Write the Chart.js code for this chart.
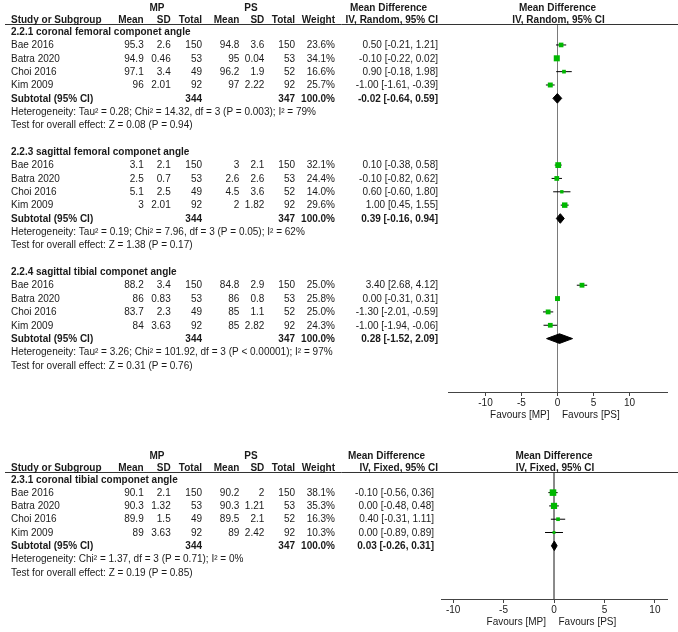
<!DOCTYPE html>
<html><head><meta charset="utf-8">
<script src="https://cdn.jsdelivr.net/npm/chart.js@4.4.1/dist/chart.umd.min.js"></script>
<style>
html,body{margin:0;padding:0;background:#fff;}
#wrap{position:relative;width:678px;height:632px;overflow:hidden;}
.box{position:absolute;left:0;width:678px;}
</style></head><body>
<div id="wrap">
<div class="box" style="top:0;height:432px"><canvas id="c1"></canvas></div>
<div class="box" style="top:440px;height:192px"><canvas id="c2"></canvas></div>
</div>
<script>
// ---------- DATA ----------
const studies = ['Bae 2016', 'Batra 2020', 'Choi 2016', 'Kim 2009'];
const mpTotal = [150, 53, 49, 92];
const psTotal = [150, 53, 52, 92];
const xTicks = [-10, -5, 0, 5, 10];

// Panel 1 (IV, Random)
const p1Titles = ['2.2.1 coronal femoral componet angle', '2.2.3 sagittal femoral componet angle', '2.2.4 sagittal tibial componet angle'];
const p1MpMean = [[95.3, 94.9, 97.1, 96], [3.1, 2.5, 5.1, 3], [88.2, 86, 83.7, 84]];
const p1MpSD   = [[2.6, 0.46, 3.4, 2.01], [2.1, 0.7, 2.5, 2.01], [3.4, 0.83, 2.3, 3.63]];
const p1PsMean = [[94.8, 95, 96.2, 97], [3, 2.6, 4.5, 2], [84.8, 86, 85, 85]];
const p1PsSD   = [[3.6, 0.04, 1.9, 2.22], [2.1, 2.6, 3.6, 1.82], [2.9, 0.8, 1.1, 2.82]];
const p1Weight = [[23.6, 34.1, 16.6, 25.7], [32.1, 24.4, 14.0, 29.6], [25.0, 25.8, 25.0, 24.3]];
const p1MD     = [[0.50, -0.10, 0.90, -1.00], [0.10, -0.10, 0.60, 1.00], [3.40, 0.00, -1.30, -1.00]];
const p1Lo     = [[-0.21, -0.22, -0.18, -1.61], [-0.38, -0.82, -0.60, 0.45], [2.68, -0.31, -2.01, -1.94]];
const p1Hi     = [[1.21, 0.02, 1.98, -0.39], [0.58, 0.62, 1.80, 1.55], [4.12, 0.31, -0.59, -0.06]];
const p1SubMD  = [-0.02, 0.39, 0.28];
const p1SubLo  = [-0.64, -0.16, -1.52];
const p1SubHi  = [0.59, 0.94, 2.09];
const p1Het = [
  'Heterogeneity: Tau\u00B2 = 0.28; Chi\u00B2 = 14.32, df = 3 (P = 0.003); I\u00B2 = 79%',
  'Heterogeneity: Tau\u00B2 = 0.19; Chi\u00B2 = 7.96, df = 3 (P = 0.05); I\u00B2 = 62%',
  'Heterogeneity: Tau\u00B2 = 3.26; Chi\u00B2 = 101.92, df = 3 (P < 0.00001); I\u00B2 = 97%'];
const p1Test = [
  'Test for overall effect: Z = 0.08 (P = 0.94)',
  'Test for overall effect: Z = 1.38 (P = 0.17)',
  'Test for overall effect: Z = 0.31 (P = 0.76)'];

// Panel 2 (IV, Fixed)
const p2Titles = ['2.3.1 coronal tibial componet angle'];
const p2MpMean = [[90.1, 90.3, 89.9, 89]];
const p2MpSD   = [[2.1, 1.32, 1.5, 3.63]];
const p2PsMean = [[90.2, 90.3, 89.5, 89]];
const p2PsSD   = [[2, 1.21, 2.1, 2.42]];
const p2Weight = [[38.1, 35.3, 16.3, 10.3]];
const p2MD     = [[-0.10, 0.00, 0.40, 0.00]];
const p2Lo     = [[-0.56, -0.48, -0.31, -0.89]];
const p2Hi     = [[0.36, 0.48, 1.11, 0.89]];
const p2SubMD  = [0.03];
const p2SubLo  = [-0.26];
const p2SubHi  = [0.31];
const p2Het  = ['Heterogeneity: Chi\u00B2 = 1.37, df = 3 (P = 0.71); I\u00B2 = 0%'];
const p2Test = ['Test for overall effect: Z = 0.19 (P = 0.85)'];

// ---------- STYLE ----------
const FONT = '"Liberation Sans", Arial, Helvetica, sans-serif';
const TXT = '#1a1a1a';
const GREEN = '#00b800';
const COLS = {mpMean:143.7, mpSD:170.7, mpTot:202, psMean:239.3, psSD:264.3, psTot:295, w:335};

function fmtCI(m, l, h){ return m.toFixed(2) + ' [' + l.toFixed(2) + ', ' + h.toFixed(2) + ']'; }

function makePanel(canvasId, P){
  const datasets = [];
  const squares = [], radii = [];
  const nG = P.titles.length;
  for (let g = 0; g < nG; g++){
    const base = g * 9;
    for (let i = 0; i < 4; i++){
      squares.push({x: P.md[g][i], y: base + 1 + i});
      const side = 1.5 + P.weight[g][i] / 7.5;
      radii.push(side / (2 * Math.SQRT1_2));
    }
  }
  datasets.push({type:'scatter', data:squares, pointStyle:'rect', pointRadius:radii, pointHoverRadius:radii,
    backgroundColor:GREEN, borderColor:GREEN, borderWidth:0});
  for (let g = 0; g < nG; g++){
    const r = g * 9 + 5, h = 0.36;
    datasets.push({type:'scatter', showLine:true, fill:'shape', tension:0,
      data:[{x:P.subLo[g], y:r}, {x:P.subMD[g], y:r - h}, {x:P.subHi[g], y:r}, {x:P.subMD[g], y:r + h}, {x:P.subLo[g], y:r}],
      borderColor:'#000', backgroundColor:'#000', borderWidth:1, pointRadius:0});
  }
  for (let g = 0; g < nG; g++){
    for (let i = 0; i < 4; i++){
      const r = g * 9 + 1 + i;
      datasets.push({type:'scatter', showLine:true, data:[{x:P.lo[g][i], y:r}, {x:P.hi[g][i], y:r}],
        borderColor:'#000', borderWidth:1, pointRadius:0});
    }
  }
  datasets.push({type:'scatter', showLine:true, data:[{x:0, y:P.yMin}, {x:0, y:P.yMax}],
    borderColor:'#7a7a7a', borderWidth:1, pointRadius:0});

  const tablePlugin = {
    id:'table',
    afterDraw(chart){
      const ctx = chart.ctx, ys = chart.scales.y, xs = chart.scales.x, ca = chart.chartArea;
      ctx.save();
      ctx.fillStyle = TXT;
      const t = (s, x, y, align, bold, base) => {
        ctx.font = (bold ? 'bold ' : '') + '10px ' + FONT;
        ctx.textAlign = align; ctx.textBaseline = base || 'middle';
        ctx.fillText(s, x, y);
      };
      const top = ca.top;
      // header line
      ctx.strokeStyle = '#333'; ctx.lineWidth = 1;
      ctx.beginPath(); ctx.moveTo(5, top + 0.5); ctx.lineTo(678, top + 0.5); ctx.stroke();
      const b2 = top - 1.5, b1 = top - 13.5;
      t('MP', 157, b1, 'center', true, 'alphabetic');
      t('PS', 251, b1, 'center', true, 'alphabetic');
      t('Mean Difference', (P.ciRight + 337) / 2 + 1, b1, 'center', true, 'alphabetic');
      t('Study or Subgroup', 11, b2, 'left', true, 'alphabetic');
      t('Mean', COLS.mpMean, b2, 'right', true, 'alphabetic');
      t('SD', COLS.mpSD, b2, 'right', true, 'alphabetic');
      t('Total', COLS.mpTot, b2, 'right', true, 'alphabetic');
      t('Mean', COLS.psMean, b2, 'right', true, 'alphabetic');
      t('SD', COLS.psSD, b2, 'right', true, 'alphabetic');
      t('Total', COLS.psTot, b2, 'right', true, 'alphabetic');
      t('Weight', COLS.w, b2, 'right', true, 'alphabetic');
      t(P.method, 438, b2, 'right', true, 'alphabetic');
      const cx = (ca.left + ca.right) / 2;
      t('Mean Difference', cx, b1, 'center', true, 'alphabetic');
      t(P.method, cx + 1, b2, 'center', true, 'alphabetic');
      for (let g = 0; g < nG; g++){
        const base = g * 9;
        const py = r => ys.getPixelForValue(r) + 0.5;
        t(P.titles[g], 11, py(base), 'left', true);
        for (let i = 0; i < 4; i++){
          const y = py(base + 1 + i);
          t(studies[i], 11, y, 'left', false);
          t(String(P.mpMean[g][i]), COLS.mpMean, y, 'right');
          t(String(P.mpSD[g][i]), COLS.mpSD, y, 'right');
          t(String(mpTotal[i]), COLS.mpTot, y, 'right');
          t(String(P.psMean[g][i]), COLS.psMean, y, 'right');
          t(String(P.psSD[g][i]), COLS.psSD, y, 'right');
          t(String(psTotal[i]), COLS.psTot, y, 'right');
          t(P.weight[g][i].toFixed(1) + '%', COLS.w, y, 'right');
          t(fmtCI(P.md[g][i], P.lo[g][i], P.hi[g][i]), P.ciRight, y, 'right');
        }
        const ys5 = py(base + 5);
        const sumMp = mpTotal.reduce((a, b) => a + b, 0), sumPs = psTotal.reduce((a, b) => a + b, 0);
        t('Subtotal (95% CI)', 11, ys5, 'left', true);
        t(String(sumMp), COLS.mpTot, ys5, 'right', true);
        t(String(sumPs), COLS.psTot, ys5, 'right', true);
        t('100.0%', COLS.w, ys5, 'right', true);
        t(fmtCI(P.subMD[g], P.subLo[g], P.subHi[g]), P.ciRight, ys5, 'right', true);
        t(P.het[g], 11, py(base + 6), 'left');
        t(P.test[g], 11, py(base + 7), 'left');
      }
      // favours labels
      const zx = xs.getPixelForValue(0), fy = ca.bottom + 23;
      t('Favours [MP]', zx - 8, fy, 'right');
      t('Favours [PS]', zx + 4.5, fy, 'left');
      ctx.restore();
    }
  };

  return new Chart(document.getElementById(canvasId), {
    data:{datasets},
    options:{
      responsive:true, maintainAspectRatio:false, animation:false,
      layout:{padding:{left:P.padLeft, right:11, top:P.padTop, bottom:0}},
      plugins:{legend:{display:false}, tooltip:{enabled:false}},
      scales:{
        x:{type:'linear', min:P.xMin, max:P.xMax,
          afterBuildTicks: s => { s.ticks = xTicks.map(v => ({value:v})); },
          afterFit: s => { s.height = P.xHeight; },
          ticks:{font:{family:FONT, size:10}, color:TXT, padding:1, autoSkip:false, maxRotation:0},
          grid:{display:true, drawOnChartArea:false, drawTicks:true, tickLength:4, color:'#444'},
          border:{display:true, color:'#444', width:1}},
        y:{type:'linear', display:false, reverse:true, min:P.yMin, max:P.yMax}
      }
    },
    plugins:[tablePlugin]
  });
}

makePanel('c1', {titles:p1Titles, mpMean:p1MpMean, mpSD:p1MpSD, psMean:p1PsMean, psSD:p1PsSD, weight:p1Weight,
  md:p1MD, lo:p1Lo, hi:p1Hi, subMD:p1SubMD, subLo:p1SubLo, subHi:p1SubHi, het:p1Het, test:p1Test,
  method:'IV, Random, 95% CI', ciRight:438, xMin:-15.2, xMax:15.2, yMin:-0.57, yMax:27,
  padLeft:448, padTop:24, xHeight:40});
makePanel('c2', {titles:p2Titles, mpMean:p2MpMean, mpSD:p2MpSD, psMean:p2PsMean, psSD:p2PsSD, weight:p2Weight,
  md:p2MD, lo:p2Lo, hi:p2Hi, subMD:p2SubMD, subLo:p2SubLo, subHi:p2SubHi, het:p2Het, test:p2Test,
  method:'IV, Fixed, 95% CI', ciRight:434, xMin:-11.2, xMax:11.2, yMin:-0.55, yMax:9,
  padLeft:441, padTop:32, xHeight:33});
</script>
</body></html>
